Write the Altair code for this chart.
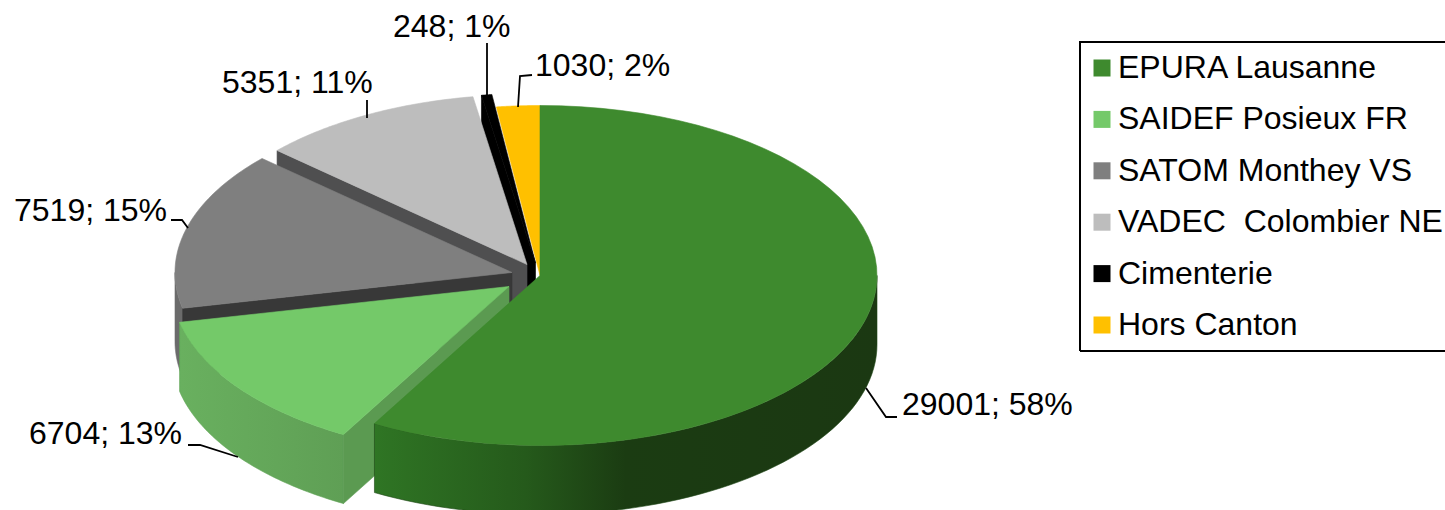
import math
import altair as alt

# Deliveries per destination
names = ["EPURA Lausanne", "SAIDEF Posieux FR", "SATOM Monthey VS",
         "VADEC\u00a0 Colombier NE", "Cimenterie", "Hors Canton"]
tonnes = [29001, 6704, 7519, 5351, 248, 1030]
percents = [58, 13, 15, 11, 1, 2]
top_colors = ["#3e8a2e", "#74c969", "#7f7f7f", "#bdbdbd", "#000000", "#ffc000"]

# Pie geometry in pixels
CX, CY, RX, RY, DEPTH = 540, 275.5, 337, 170, 69
explode = [(0, 0), (-31, 11), (-28, -3), (-13, -11), (-4.5, -12.5), (0, 0)]

label_xy = [(902, 405), (29, 434), (14, 211), (222, 83), (393, 27), (535, 66)]
leaders = [
    [(897, 417), (886, 417), (866, 388)],
    [(188, 445), (200, 445), (238, 457)],
    [(171, 220), (182, 220), (188, 228)],
    [(367, 100), (367, 118)],
    [(487, 43), (487, 95)],
    [(532, 75), (520, 76), (518, 107)],
]
legend_box = [(1080, 351), (1080, 42), (1460, 42), (1460, 351), (1080, 351)]

total = sum(tonnes)
bounds = [0.0]
for t in tonnes:
    bounds.append(bounds[-1] + t / total * 360)


def rim(a0, a1, dx=0.0, dy=0.0, drop=0.0, steps=60):
    pts = []
    for i in range(steps + 1):
        a = math.radians(a0 + (a1 - a0) * i / steps)
        pts.append((CX + dx + RX * math.sin(a), CY + dy - RY * math.cos(a) + drop))
    return pts


def feature(pts, kind="Polygon", name=""):
    coords = [list(p) for p in pts]
    if kind == "Polygon":
        coords = [coords + [coords[0]]]
    return {"type": "Feature", "properties": {"name": name},
            "geometry": {"type": kind, "coordinates": coords}}


PROJ = alt.Projection(type="identity", scale=1, translate=[0, 0])


def shape(pts, fill, stroke=None):
    return alt.Chart(alt.Data(values=[feature(pts)]), projection=PROJ).mark_geoshape(
        fill=fill, stroke=stroke if stroke is not None else fill, strokeWidth=0.6
    )


def h_gradient(stops):
    return alt.Gradient(
        gradient="linear", x1=0, x2=1, y1=0, y2=0,
        stops=[alt.GradientStop(color=c, offset=o) for o, c in stops],
    )


color = alt.Color(
    "properties.name:N",
    scale=alt.Scale(domain=names, range=top_colors),
    legend=alt.Legend(
        title=None, orient="none", legendX=1076, legendY=42, padding=10,
        symbolType="square", symbolSize=289, symbolStrokeWidth=0,
        labelFont="Liberation Sans", labelFontSize=32, labelColor="#000000",
        labelLimit=500, labelOffset=0, rowPadding=19.4,
    ),
)


def top(i):
    dx, dy = explode[i]
    apex = (CX + dx, CY + dy)
    pts = [apex] + rim(bounds[i], bounds[i + 1], dx, dy)
    return (
        alt.Chart(alt.Data(values=[feature(pts, name=names[i])]), projection=PROJ)
        .mark_geoshape(stroke=top_colors[i], strokeWidth=0.6)
        .encode(color=color)
    )


def cut_wall(i, angle, fill):
    """Flat face running from the apex to the rim at the given angle."""
    dx, dy = explode[i]
    outer = rim(angle, angle, dx, dy, steps=1)[0]
    apex = (CX + dx, CY + dy)
    pts = [apex, outer, (outer[0], outer[1] + DEPTH), (apex[0], apex[1] + DEPTH)]
    return shape(pts, fill)


def outer_wall(i, a0, a1, fill, stroke=None):
    dx, dy = explode[i]
    pts = rim(a0, a1, dx, dy) + rim(a1, a0, dx, dy, DEPTH)
    return shape(pts, fill, stroke)


layers = [
    # back slices first, so the nearer ones overlap them
    top(5),
    cut_wall(4, bounds[4], "#000000"),
    top(4),
    cut_wall(3, bounds[3], "#4f4f50"),
    top(3),
    outer_wall(2, bounds[2], 270, "#6b6b6b"),
    cut_wall(2, bounds[2], "#383838"),
    top(2),
    outer_wall(1, bounds[1], bounds[2], h_gradient([(0, "#69b05f"), (1, "#5f9f55")]), "#62a558"),
    cut_wall(1, bounds[1], "#5b9a51"),
    top(1),
    outer_wall(0, 90, bounds[1],
               h_gradient([(0, "#2f7524"), (0.3, "#255a1b"), (0.5, "#1b3c12"), (1, "#1b3812")]),
               "#1f4716"),
    top(0),
]

# Leader lines and the legend frame
for path in leaders:
    layers.append(
        alt.Chart(alt.Data(values=[feature(path, "LineString")]), projection=PROJ)
        .mark_geoshape(filled=False, stroke="#000000", strokeWidth=1.8)
    )
layers.append(
    alt.Chart(alt.Data(values=[feature(legend_box, "LineString")]), projection=PROJ)
    .mark_geoshape(filled=False, stroke="#000000", strokeWidth=2)
)

labels = [
    {"text": f"{t}; {p}%", "x": xy[0], "y": xy[1]}
    for t, p, xy in zip(tonnes, percents, label_xy)
]
layers.append(
    alt.Chart(alt.Data(values=labels))
    .mark_text(align="left", baseline="middle", font="Liberation Sans", fontSize=32, color="#000000")
    .encode(x=alt.X("x:Q", scale=None, axis=None), y=alt.Y("y:Q", scale=None, axis=None), text="text:N")
)

chart = (
    alt.layer(*layers)
    .properties(width=1445, height=510, padding=0, autosize="none", background="#ffffff")
    .configure_view(stroke=None)
)

chart.save("out.html", embed_options={"renderer": "svg", "actions": False})
